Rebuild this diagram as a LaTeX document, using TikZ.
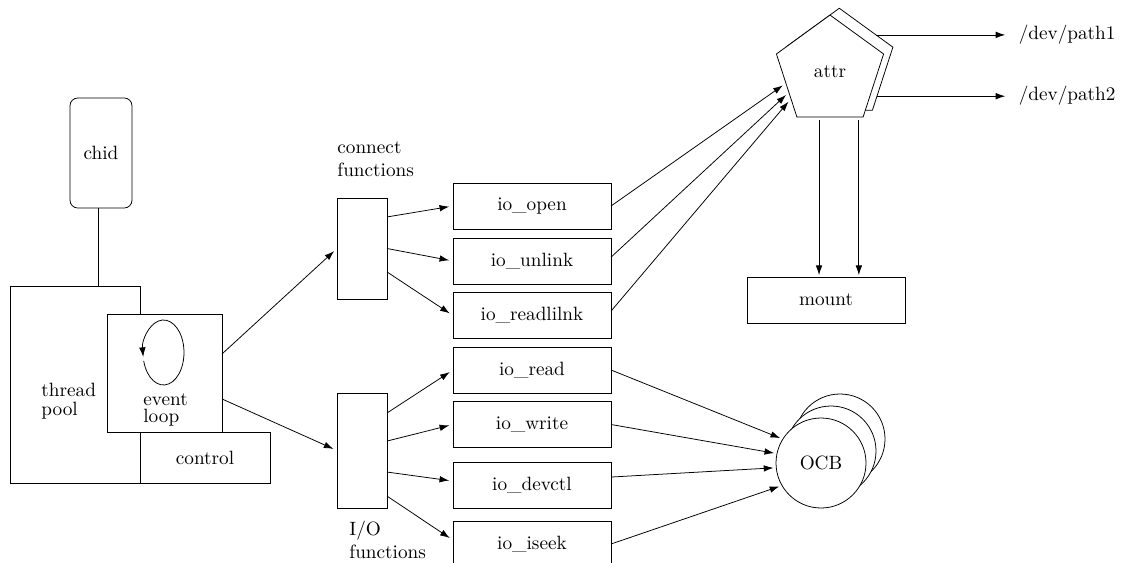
\documentclass[tikz,border=0pt]{standalone}
\usetikzlibrary{positioning,arrows.meta,shapes.geometric}
\begin{document}
\begin{tikzpicture}[x=0.52pt,y=-0.52pt,>={Latex[length=5pt,width=3.4pt]}]
\useasboundingbox (0,0) rectangle (1124,562);
% Draw Resource Manager
   \begin{scope}[ box/.style={rectangle,draw,inner sep=0pt,outer sep=0pt},
                  fn/.style={box,minimum width=82.2pt,minimum height=23.9pt},
                  bar/.style={box,minimum width=26pt},
                  txt/.style={align=left,inner sep=0pt,anchor=west},
                  ocb/.style={circle,draw,fill=white,minimum size=46.8pt,inner sep=0pt,outer sep=0pt},
                  pent/.style={regular polygon,regular polygon sides=5,draw,fill=white,
                               minimum size=58.6pt,inner sep=0pt,outer sep=0pt} ]
     % thread pool
     \node [box,rounded corners=4pt,minimum width=32.2pt,minimum height=57.2pt] (chid) at (101,153) {chid};
     \node [box,minimum width=67.6pt,minimum height=102.4pt] (pool) at (75,384.5) {};
     \node [box,minimum width=67.6pt,minimum height=26.5pt] (ctrl) at (205,457.5) {control};
     \node [box,fill=white,minimum width=59.8pt,minimum height=61.4pt] (loop) at (164.5,373) {};
     \node [txt] (pooltxt) at (41,401) {thread\\[-2pt]pool};
     \node [txt] (looptxt) at (143,410) {event\\[-3pt]loop};
     \draw ([xshift=-1.6pt]chid.south) -- ([xshift=-1.6pt]chid.south |- pool.north);
     \draw [->] (143.7,360.9) arc [start angle=165,end angle=-188,x radius=20.5,y radius=32.5];
     % function tables
     \node [bar,minimum height=52.5pt] (conn) at (362,248.5) {};
     \node [bar,minimum height=59.8pt] (iof)  at (362,450.5) {};
     \node [txt] (conntxt) at (337,159) {connect\\functions};
     \node [txt] (ioftxt)  at (349,540) {I/O\\functions};
     \draw [->,shorten >=2pt] ([yshift=9.9pt]loop.east) -- (conn.west);
     \draw [->,shorten >=2pt] ([yshift=-13.5pt]loop.east) -- (iof.west);
     \node [fn] (open)   at (532,206)   {io\_open};
     \node [fn] (unlink) at (532,261)   {io\_unlink};
     \node [fn] (readl)  at (532,315.5) {io\_readlilnk};
     \node [fn] (read)   at (532,370)   {io\_read};
     \node [fn] (write)  at (532,424.5) {io\_write};
     \node [fn] (devctl) at (532,485.5) {io\_devctl};
     \node [fn] (iseek)  at (532,544)   {io\_iseek};
     \draw [->,shorten >=2pt] ([yshift=16.4pt]conn.east) -- (open.west);
     \draw [->,shorten >=2pt] (conn.east) -- (unlink.west);
     \draw [->,shorten >=2pt] ([yshift=-12.2pt]conn.east) -- (readl.west);
     \draw [->,shorten >=2pt] ([yshift=19.5pt]iof.east) -- (read.west);
     \draw [->,shorten >=2pt] ([yshift=4.9pt]iof.east) -- (write.west);
     \draw [->,shorten >=2pt] ([yshift=-11.2pt]iof.east) -- ([yshift=2.3pt]devctl.west);
     \draw [->,shorten >=2pt] ([yshift=-23.7pt]iof.east) -- ([yshift=2pt]iseek.west);
     % attributes
     \node [pent] (attrb) at (839.3,64.6) {};
     \node [pent] (attr)  at (830,71.4) {attr};
     \draw [->,shorten >=2pt] (open.east) -- (attr.195);
     \draw [->,shorten >=2pt] ([yshift=2pt]unlink.east) -- (attr.207);
     \draw [->,shorten >=2pt] ([yshift=2.3pt]readl.east) -- (attr.215);
     \node [anchor=west] (path1) at (1012,34.5) {/dev/path1};
     \node [anchor=west] (path2) at (1012,96)   {/dev/path2};
     \draw [->,shorten >=3.5pt] (attrb.39) -- (attrb.39 -| path1.west);
     \draw [->,shorten >=3.5pt] (attrb.-40) -- (attrb.-40 -| path2.west);
     \node [fn] (mount) at (826,300) {mount};
     \draw [->,shorten <=1.5pt,shorten >=1pt] ([xshift=-5.7pt]attr.270) -- ([xshift=-5.7pt]attr.270 |- mount.north);
     \draw [->,shorten <=1.5pt,shorten >=1pt] ([xshift=15pt]attr.270) -- ([xshift=15pt]attr.270 |- mount.north);
     % open control blocks
     \node [ocb] (ocb3) at (840,439) {};
     \node [ocb] (ocb2) at (831,451) {};
     \node [ocb] (ocb)  at (821,463) {OCB};
     \draw [->,shorten >=1.5pt] (read.east) -- (ocb.148);
     \draw [->,shorten >=1.5pt] (write.east) -- (ocb.168);
     \draw [->,shorten >=1.5pt] ([yshift=4.4pt]devctl.east) -- (ocb.186);
     \draw [->,shorten >=1.5pt] (iseek.east) -- (ocb.210);
   \end{scope}
\end{tikzpicture}
\end{document}
